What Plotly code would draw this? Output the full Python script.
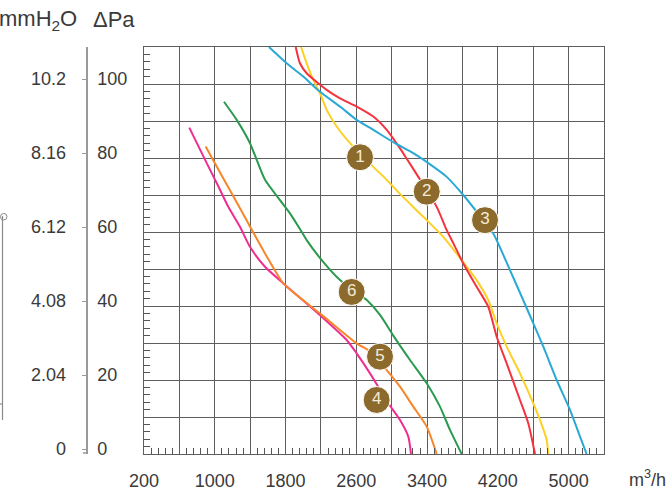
import plotly.graph_objects as go

# ---------------- data ----------------
flow_1 = [1975, 2039, 2114, 2190, 2265, 2378, 2529, 2792, 2944, 3094, 3357, 3583, 3791, 3960, 4092, 4187, 4300, 4450, 4601, 4676, 4752, 4770]
pres_1 = [110, 105.6, 101.1, 97.5, 93.0, 88.5, 84.0, 77.6, 74.1, 70.3, 64.1, 58.7, 52.4, 47.0, 41.6, 35.3, 29.0, 21.8, 13.7, 9.2, 3.8, 0]

flow_2 = [1915, 1963, 2039, 2170, 2265, 2416, 2604, 2792, 2944, 3094, 3170, 3301, 3509, 3622, 3696, 3809, 3960, 4092, 4187, 4300, 4450, 4544, 4620]
pres_2 = [110, 105.6, 102.9, 100.2, 98.4, 96.1, 93.9, 91.2, 87.6, 82.6, 79.8, 74.9, 66.8, 60.5, 57.0, 51.5, 45.2, 39.8, 31.7, 24.5, 14.6, 8.3, 0]

flow_3 = [1613, 1813, 2001, 2190, 2416, 2604, 2792, 3037, 3244, 3414, 3622, 3809, 3960, 4148, 4337, 4470, 4601, 4714, 4865, 5016, 5129, 5204]
pres_3 = [110, 105.6, 102.0, 97.9, 93.9, 90.3, 87.6, 84.0, 81.3, 78.6, 74.9, 70.0, 65.5, 59.6, 49.7, 42.5, 35.3, 29.0, 20.0, 11.9, 4.7, 0]

flow_4 = [712, 909, 1033, 1153, 1285, 1398, 1568, 1775, 2209, 2491, 2604, 2755, 2962, 3094, 3188, 3218]
pres_4 = [88.2, 78.6, 72.7, 66.8, 61.4, 56.0, 50.6, 46.1, 37.1, 30.8, 27.2, 21.8, 13.7, 9.2, 4.7, 0]

flow_5 = [897, 1022, 1153, 1285, 1398, 1511, 1624, 1775, 2209, 2604, 2792, 2944, 3094, 3244, 3396, 3509]
pres_5 = [83.1, 77.7, 72.1, 66.4, 61.5, 56.6, 51.9, 46.1, 37.6, 29.9, 27.2, 22.7, 18.2, 12.8, 7.4, 0]

flow_6 = [1104, 1248, 1398, 1474, 1568, 1737, 1850, 1963, 2039, 2209, 2416, 2718, 2868, 3018, 3207, 3396, 3546, 3659, 3791]
pres_6 = [95.2, 90.3, 84.0, 79.5, 74.1, 68.6, 65.05, 60.8, 57.8, 52.4, 47.0, 41.6, 37.6, 32.0, 25.4, 19.1, 12.8, 6.5, 0]

series_names = ["1", "2", "3", "4", "5", "6"]
series_colors = ["#fdd023", "#f5333f", "#2aa9d4", "#ef2d92", "#f7862b", "#2a9a4e"]

label_text = ["1", "2", "3", "4", "5", "6"]
label_flow = [2642, 3396, 4055, 2830, 2868, 2548]
label_pres = [80.2, 70.9, 63.2, 14.6, 26.3, 43.8]

x_grid = list(range(200, 5401, 400))
x_tick_labels = [200, 1000, 1800, 2600, 3400, 4200, 5000]
pa_ticks = [0, 20, 40, 60, 80, 100]
pa_tick_labels = ["0", "20", "40", "60", "80", "100"]
mm_tick_labels = ["0", "2.04", "4.08", "6.12", "8.16", "10.2"]

# ---------------- figure ----------------
FONT = "Liberation Sans, Arial, sans-serif"
TXT = "#3a3a3a"
GRID = "#5e5e5e"

fig = go.Figure()
flows = [flow_1, flow_2, flow_3, flow_4, flow_5, flow_6]
press = [pres_1, pres_2, pres_3, pres_4, pres_5, pres_6]
for f, p, c, n in zip(flows, press, series_colors, series_names):
    fig.add_trace(go.Scatter(x=f, y=p, mode="lines", name=n,
                             line=dict(color=c, width=2, shape="spline", smoothing=0.6),
                             showlegend=False, hoverinfo="skip"))

fig.add_trace(go.Scatter(x=label_flow, y=label_pres, mode="markers+text",
                         text=label_text, textposition="middle center",
                         textfont=dict(color="#f4ecda", size=17, family=FONT),
                         marker=dict(size=27, color="#8c6a2b", line=dict(color="#ffffff", width=1)),
                         showlegend=False, hoverinfo="skip"))

# dummy traces for the two outer pressure axes
fig.add_trace(go.Scatter(x=[None], y=[None], yaxis="y2", showlegend=False, hoverinfo="skip"))
fig.add_trace(go.Scatter(x=[None], y=[None], yaxis="y3", showlegend=False, hoverinfo="skip"))

W, H = 667, 492
ML, MR, MT, MB = 0, 63, 47, 38
PW = W - ML - MR
PH = H - MT - MB
plot_left = 144

def px_to_paper(px):
    return (px - ML) / PW

def py_to_paper(py):
    return (H - MB - py) / PH

x_text = [str(v) if v in x_tick_labels else "" for v in x_grid]
label_range = [-1.35, 108.65]

fig.update_layout(
    width=W, height=H,
    margin=dict(l=ML, r=MR, t=MT, b=MB, autoexpand=False),
    paper_bgcolor="white", plot_bgcolor="white",
    font=dict(family=FONT, color=TXT, size=18),
    xaxis=dict(
        domain=[px_to_paper(plot_left), 1], range=[200, 5400], automargin=False,
        tickmode="array", tickvals=x_grid, ticktext=x_text,
        showgrid=True, gridcolor=GRID, gridwidth=1.4,
        showline=True, linecolor=GRID, linewidth=1.4, mirror=True,
        ticks="inside", ticklen=6, tickcolor=GRID,
        minor=dict(tickmode="linear", tick0=200, dtick=80, ticks="inside",
                   ticklen=6, tickcolor="#555", tickwidth=1, showgrid=False),
        tickfont=dict(size=18, color=TXT), ticklabelstandoff=10,
        zeroline=False, fixedrange=True,
    ),
    yaxis=dict(
        range=[0, 110], tickmode="linear", tick0=0, dtick=10, automargin=False,
        showticklabels=False,
        showgrid=True, gridcolor=GRID, gridwidth=1.4,
        showline=True, linecolor=GRID, linewidth=1.4, mirror=True,
        ticks="inside", ticklen=6, tickcolor=GRID,
        minor=dict(tickmode="linear", tick0=0, dtick=2, ticks="inside",
                   ticklen=6, tickcolor="#555", tickwidth=1, showgrid=False),
        zeroline=False, fixedrange=True,
    ),
    yaxis2=dict(
        overlaying="y", anchor="free", position=px_to_paper(87), side="right",
        automargin=False,
        range=label_range, tickmode="array", tickvals=pa_ticks, ticktext=pa_tick_labels,
        showgrid=False, zeroline=False, showline=True, linecolor="#9a9a9a", linewidth=1.5,
        ticks="inside", ticklen=4, tickcolor="#9a9a9a", tickwidth=1.2,
        tickfont=dict(size=18, color=TXT), ticklabelstandoff=6, fixedrange=True,
    ),
    yaxis3=dict(
        overlaying="y", anchor="free", position=px_to_paper(66), side="left",
        automargin=False,
        range=label_range, tickmode="array", tickvals=pa_ticks, ticktext=mm_tick_labels,
        showgrid=False, zeroline=False, showline=False, ticks="",
        tickfont=dict(size=18, color=TXT), ticklabelstandoff=0, fixedrange=True,
    ),
)

# header / unit texts
fig.add_annotation(xref="paper", yref="paper", x=px_to_paper(79), y=py_to_paper(20),
                   xanchor="right", yanchor="middle", showarrow=False,
                   text="mmH<sub>2</sub>O", font=dict(size=22, color=TXT))
fig.add_annotation(xref="paper", yref="paper", x=px_to_paper(91), y=py_to_paper(20),
                   xanchor="left", yanchor="middle", showarrow=False,
                   text="\u0394Pa", font=dict(size=22, color=TXT))
fig.add_annotation(xref="paper", yref="paper", x=px_to_paper(627), y=py_to_paper(479),
                   xanchor="left", yanchor="middle", showarrow=False,
                   text="m<sup>3</sup>/h", font=dict(size=18, color=TXT))

# small hook at bottom of the Pa axis and the cropped element at the far left
fig.add_shape(type="line", xref="paper", yref="paper",
              x0=px_to_paper(83), x1=px_to_paper(87.5), y0=py_to_paper(453), y1=py_to_paper(453),
              line=dict(color="#9a9a9a", width=1.5))
fig.add_shape(type="line", xref="paper", yref="paper",
              x0=px_to_paper(2.5), x1=px_to_paper(2.5), y0=py_to_paper(420), y1=py_to_paper(216),
              line=dict(color="#8a8a8a", width=1.2))
fig.add_shape(type="line", xref="paper", yref="paper",
              x0=px_to_paper(0), x1=px_to_paper(2.5), y0=py_to_paper(404), y1=py_to_paper(404),
              line=dict(color="#8a8a8a", width=1.2))
fig.add_shape(type="circle", xref="paper", yref="paper",
              x0=px_to_paper(0.5), x1=px_to_paper(7), y0=py_to_paper(220), y1=py_to_paper(213.5),
              line=dict(color="#8a8a8a", width=1))

fig.write_html("out.html", config={"displayModeBar": False},
               post_script="document.body.style.margin='0';document.body.style.padding='0';")
